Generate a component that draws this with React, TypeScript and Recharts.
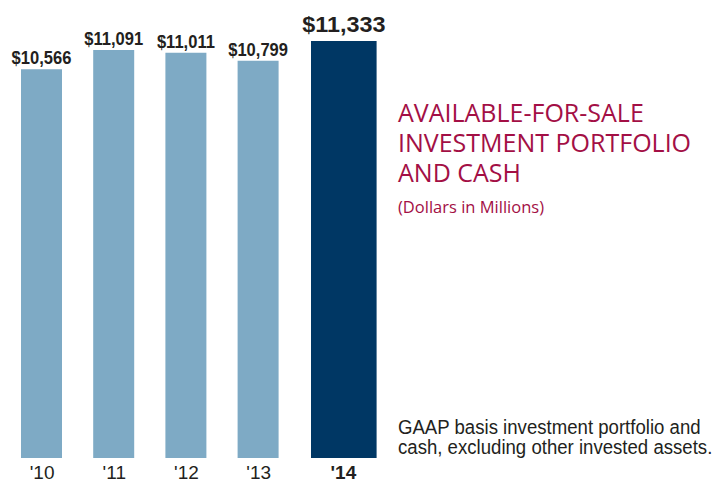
import React from "react";
import { BarChart, Bar, XAxis, YAxis, Cell, LabelList, Rectangle } from "recharts";

const years = ["'10", "'11", "'12", "'13", "'14"];
const portfolio = [10566, 11091, 11011, 10799, 11333];
const titleLines = ["AVAILABLE-FOR-SALE", "INVESTMENT PORTFOLIO", "AND CASH"];

const LIGHT = "#7eaac5";
const DARK = "#003764";
const INK = "#231f20";
const CRIMSON = "#a30f45";
const SANS = "'Liberation Sans', Arial, sans-serif";

const data = years.map((year, i) => ({ year, value: portfolio[i] }));
const last = data.length - 1;

// the current year bar is drawn wider and pushed a bit right
const barGeom = (x: number, width: number, index: number) => {
  if (index !== last) return { x, width };
  const w = width * 1.6;
  return { x: x + width / 2 + 13.5 - w / 2, width: w };
};

const BarShape = (props: any) => {
  const g = barGeom(props.x, props.width, props.index);
  return <Rectangle {...props} x={g.x} width={g.width} />;
};

const ValueLabel = (props: any) => {
  const { x, y, width, value, index } = props;
  const g = barGeom(x, width, index);
  const big = index === last;
  const cx = g.x + g.width / 2;
  const cy = y - (big ? 9 : 5);
  return (
    <text
      transform={`translate(${cx},${cy}) scale(${big ? 1.04 : 0.92},1)`}
      x={0}
      y={0}
      textAnchor="middle"
      fill={INK}
      fontFamily={SANS}
      fontWeight="bold"
      fontSize={big ? 22.5 : 18}
    >
      {"$" + Number(value).toLocaleString("en-US")}
    </text>
  );
};

const YearTick = (props: any) => {
  const { x, y, payload, index } = props;
  const big = index === last;
  return (
    <text
      x={big ? x + 13.5 : x + 1}
      y={y + 13}
      textAnchor="middle"
      fill={INK}
      fontFamily={SANS}
      fontWeight={big ? "bold" : "normal"}
      fontSize={19}
    >
      {payload.value}
    </text>
  );
};

export default function App() {
  return (
    <div style={{ position: "absolute", left: 0, top: 0, width: 715, height: 485, background: "#fff" }}>
      <BarChart
        width={390}
        height={485}
        data={data}
        margin={{ top: 41, right: 24, bottom: 0, left: 5 }}
        barCategoryGap={0}
      >
        <YAxis hide domain={[0, 11333]} />
        <XAxis dataKey="year" axisLine={false} tickLine={false} height={27} tick={<YearTick />} interval={0} />
        <Bar dataKey="value" barSize={41} shape={<BarShape />} isAnimationActive={false}>
          {data.map((d, i) => (
            <Cell key={d.year} fill={i === last ? DARK : LIGHT} />
          ))}
          <LabelList dataKey="value" content={<ValueLabel />} />
        </Bar>
      </BarChart>
      <div
        style={{
          position: "absolute",
          left: 398,
          top: 97,
          color: CRIMSON,
          fontFamily: "'Open Sans', 'Noto Sans', sans-serif",
          fontSize: 25,
        }}
      >
        {titleLines.map((line) => (
          <div key={line} style={{ height: 30, lineHeight: "30px", whiteSpace: "nowrap" }}>
            {line}
          </div>
        ))}
      </div>
      <div
        style={{
          position: "absolute",
          left: 398,
          top: 195,
          color: CRIMSON,
          fontFamily: "'Open Sans', 'Noto Sans', sans-serif",
          fontSize: 16.5,
        }}
      >
        (Dollars in Millions)
      </div>
      <div
        style={{
          position: "absolute",
          left: 398,
          top: 417,
          color: INK,
          fontFamily: SANS,
          fontSize: 20,
          lineHeight: "20px",
          whiteSpace: "nowrap",
          transform: "scaleX(0.93)",
          transformOrigin: "0 0",
        }}
      >
        GAAP basis investment portfolio and
        <br />
        cash, excluding other invested assets.
      </div>
    </div>
  );
}
